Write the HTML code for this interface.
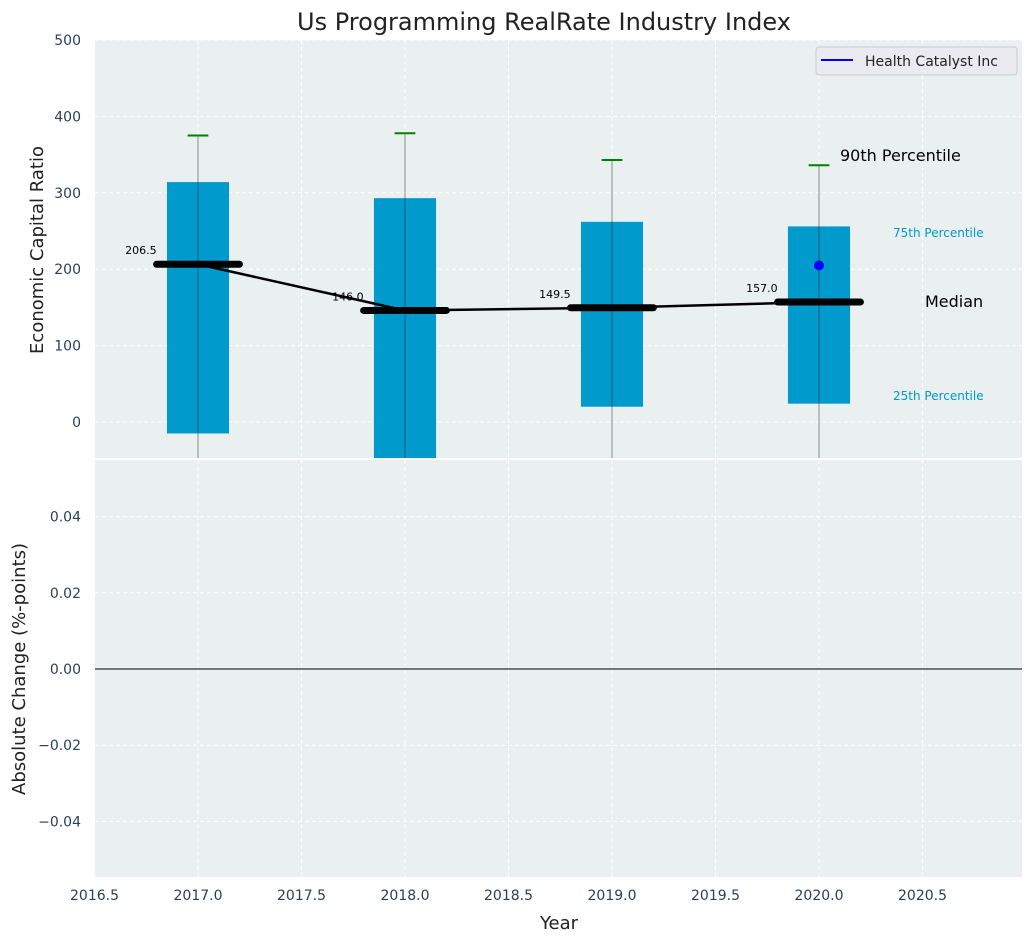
<!DOCTYPE html>
<html><head><meta charset="utf-8">
<style>
html,body{margin:0;padding:0;background:#fff;}
svg{display:block;font-family:"DejaVu Sans","Liberation Sans",sans-serif;}
</style></head>
<body>
<svg id="chart" width="1034" height="942" viewBox="0 0 1034 942" xmlns="http://www.w3.org/2000/svg">
<defs>
<clipPath id="clipTop"><rect x="95" y="40" width="927" height="418"/></clipPath>
<clipPath id="clipBot"><rect x="95" y="460" width="927" height="417"/></clipPath>
</defs>
<text x="544" y="30" font-size="24" text-anchor="middle" fill="#222">Us Programming RealRate Industry Index</text>
<rect x="95" y="40" width="927" height="418" fill="#eaeff0"/>
<rect x="95" y="460" width="927" height="417" fill="#eaeff0"/>
<g id="topGrid"></g><g id="botGrid"></g>
<g id="topMarks" clip-path="url(#clipTop)"></g>
<g id="botMarks" clip-path="url(#clipBot)"></g>
<g id="labels"></g>
<text transform="translate(43,250) rotate(-90)" font-size="18" text-anchor="middle" fill="#222">Economic Capital Ratio</text>
<text transform="translate(25,669) rotate(-90)" font-size="18" text-anchor="middle" fill="#222">Absolute Change (%-points)</text>
<text x="559" y="929" font-size="18" text-anchor="middle" fill="#222">Year</text>
<g>
<rect x="816" y="47" width="201" height="28" rx="3" fill="#eaeaf0" stroke="#cccccc"/>
<line x1="821" y1="60" x2="853" y2="60" stroke="#0000ff" stroke-width="2"/>
<text x="865" y="66" font-size="14" fill="#222">Health Catalyst Inc</text>
</g>
<text x="840" y="161" font-size="16" fill="#000">90th Percentile</text>
<text x="893" y="237" font-size="12" fill="#0099cc">75th Percentile</text>
<text x="925" y="307" font-size="16" fill="#000">Median</text>
<text x="893" y="400" font-size="12" fill="#0099cc">25th Percentile</text>
</svg>
<script>
const years=[2017,2018,2019,2020];
const p25=[-15,-60,20,24];
const p75=[314,293,262,256];
const p90=[375,378,343,336];
const p10=[-80,-80,-80,-80];
const medians=[206.5,146.0,149.5,157.0];
const medianLabels=["206.5","146.0","149.5","157.0"];
const companyYears=[2020];
const companyValues=[205];
const xTicks=[2016.5,2017,2017.5,2018,2018.5,2019,2019.5,2020,2020.5];
const yTopTicks=[0,100,200,300,400,500];
const yBotTicks=[-0.04,-0.02,0,0.02,0.04];

const NS="http://www.w3.org/2000/svg";
const X=v=>94.5+(v-2016.5)*207;
const Y=v=>422-v*0.764;
const YB=v=>669-v*3810;
function mk(parent,tag,attrs,text){const e=document.createElementNS(NS,tag);for(const k in attrs)e.setAttribute(k,attrs[k]);if(text!==undefined)e.textContent=text;document.getElementById(parent).appendChild(e);return e;}

xTicks.forEach(t=>{
 const a=mk('topGrid','line',{x1:X(t),x2:X(t),y1:40,y2:458,stroke:'#fff','stroke-dasharray':'4,3','stroke-width':1});
 
 
 const b=mk('botGrid','line',{x1:X(t),x2:X(t),y1:460,y2:877,stroke:'#fff','stroke-dasharray':'4,3','stroke-width':1});
 
 
 const l=mk('labels','text',{x:X(t),y:900,'font-size':14,'text-anchor':'middle',fill:'#2a3f5a'},t.toFixed(1));
 
 
});
yTopTicks.forEach(t=>{
 const g=mk('topGrid','line',{x1:95,x2:1022,y1:Y(t),y2:Y(t),stroke:'#fff','stroke-dasharray':'4,3','stroke-width':1});
 
 
 const l=mk('labels','text',{x:81,y:Y(t)+5,'font-size':14,'text-anchor':'end',fill:'#2a3f5a'},String(t));
 
 
});
yBotTicks.forEach(t=>{
 const g=mk('botGrid','line',{x1:95,x2:1022,y1:YB(t),y2:YB(t),stroke:'#fff','stroke-dasharray':'4,3','stroke-width':1});
 
 
 const s=t<0?'\u2212'+Math.abs(t).toFixed(2):t.toFixed(2);
 const l=mk('labels','text',{x:81,y:YB(t)+5,'font-size':14,'text-anchor':'end',fill:'#2a3f5a'},s);
 
 
});
const z=mk('botMarks','line',{x1:95,x2:1022,y1:YB(0),y2:YB(0),stroke:'#000','stroke-width':1});



years.forEach((yr,i)=>{
 const top=Y(p75[i]),bot=Y(p25[i]);
 const r=mk('topMarks','rect',{x:X(yr-0.15),y:top,width:X(yr+0.15)-X(yr-0.15),height:bot-top,fill:'#009acd'});
 
 
 const w=mk('topMarks','line',{x1:X(yr),x2:X(yr),y1:Y(p90[i]),y2:Y(p10[i]),stroke:'#8c8c8c','stroke-width':1});
 
 
 const w2=mk('topMarks','line',{x1:X(yr),x2:X(yr),y1:Y(p75[i]),y2:Y(Math.max(p25[i],-60)),stroke:'#1a5a70','stroke-width':1});
 
 
 const c=mk('topMarks','line',{x1:X(yr-0.05),x2:X(yr+0.05),y1:Y(p90[i]),y2:Y(p90[i]),stroke:'#008000','stroke-width':2});
 
 
});
let pts=years.map((yr,i)=>X(yr)+','+Y(medians[i])).join(' ');
const ml=mk('topMarks','polyline',{points:pts,fill:'none',stroke:'#000','stroke-width':2.5});


years.forEach((yr,i)=>{
 const m=mk('topMarks','line',{x1:X(yr-0.2),x2:X(yr+0.2),y1:Y(medians[i]),y2:Y(medians[i]),stroke:'#000','stroke-width':7,'stroke-linecap':'round'});
 
 
 const t=mk('labels','text',{x:X(yr-0.2),y:Y(medians[i])-10,'font-size':11,'text-anchor':'end',fill:'#000'},medianLabels[i]);
 
 
});
companyYears.forEach((yr,i)=>{
 const d=mk('topMarks','circle',{cx:X(yr),cy:Y(companyValues[i]),r:5,fill:'#0000ff'});
 
 
});
</script>
</body></html>
